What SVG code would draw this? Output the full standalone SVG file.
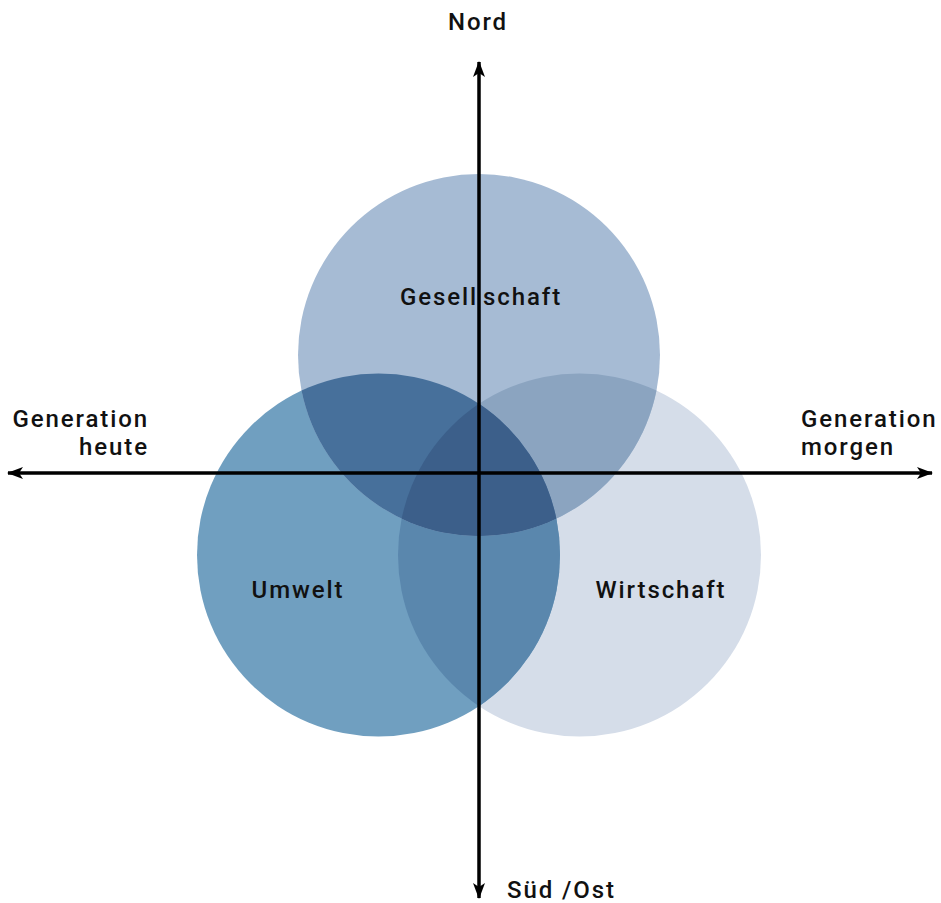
<svg xmlns="http://www.w3.org/2000/svg" width="941" height="903" viewBox="0 0 941 903">
<defs>
<style>
text{font-family:"Roboto","DejaVu Sans",sans-serif;font-weight:500;font-size:24px;fill:#111;letter-spacing:1.9px}
.ax{stroke:#000;stroke-width:3;fill:none}
</style>
<marker id="ah" viewBox="0 0 16 12" refX="15" refY="6" markerWidth="16" markerHeight="12" markerUnits="userSpaceOnUse" orient="auto">
<path d="M0,0 L16,6 L0,12 L4,6 Z" fill="#000"/>
</marker>
<clipPath id="cG"><circle cx="479" cy="355" r="181"/></clipPath>
<clipPath id="cU"><circle cx="378.5" cy="555" r="181.5"/></clipPath>
<clipPath id="cW"><circle cx="579.5" cy="555" r="181.5"/></clipPath>
</defs>
<rect width="941" height="903" fill="#fff"/>
<g id="wirtschaft">
<circle cx="579.5" cy="555" r="181.5" fill="#d5dde9"/>
</g>
<g id="umwelt">
<circle cx="378.5" cy="555" r="181.5" fill="#709fc0"/>
<circle cx="579.5" cy="555" r="181.5" fill="#5a87ad" clip-path="url(#cU)"/>
</g>
<g id="gesellschaft">
<circle cx="479" cy="355" r="181" fill="#a6bbd4"/>
<circle cx="579.5" cy="555" r="181.5" fill="#8ba4c0" clip-path="url(#cG)"/>
<circle cx="378.5" cy="555" r="181.5" fill="#47709b" clip-path="url(#cG)"/>
<g clip-path="url(#cG)"><circle cx="579.5" cy="555" r="181.5" fill="#3c5f8a" clip-path="url(#cU)"/></g>
</g>
<g id="connectors">
<line class="ax" x1="479" y1="898" x2="479" y2="62" marker-end="url(#ah)"/>
<line class="ax" x1="479" y1="62" x2="479" y2="898" marker-end="url(#ah)"/>
<line class="ax" x1="8" y1="473" x2="932" y2="473" marker-end="url(#ah)"/>
<line class="ax" x1="932" y1="473" x2="8" y2="473" marker-end="url(#ah)"/>
</g>
<g id="labels">
<text x="478" y="30" text-anchor="middle">Nord</text>
<text x="400" y="305">Gesell<tspan dx="5">schaft</tspan></text>
<text x="149" y="427" text-anchor="end">Generation</text>
<text x="149" y="455" text-anchor="end">heute</text>
<text x="801" y="427">Generation</text>
<text x="801" y="455">morgen</text>
<text x="298" y="598" text-anchor="middle">Umwelt</text>
<text x="661" y="598" text-anchor="middle">Wirtschaft</text>
<text x="507" y="898">Süd /Ost</text>
</g>
</svg>
